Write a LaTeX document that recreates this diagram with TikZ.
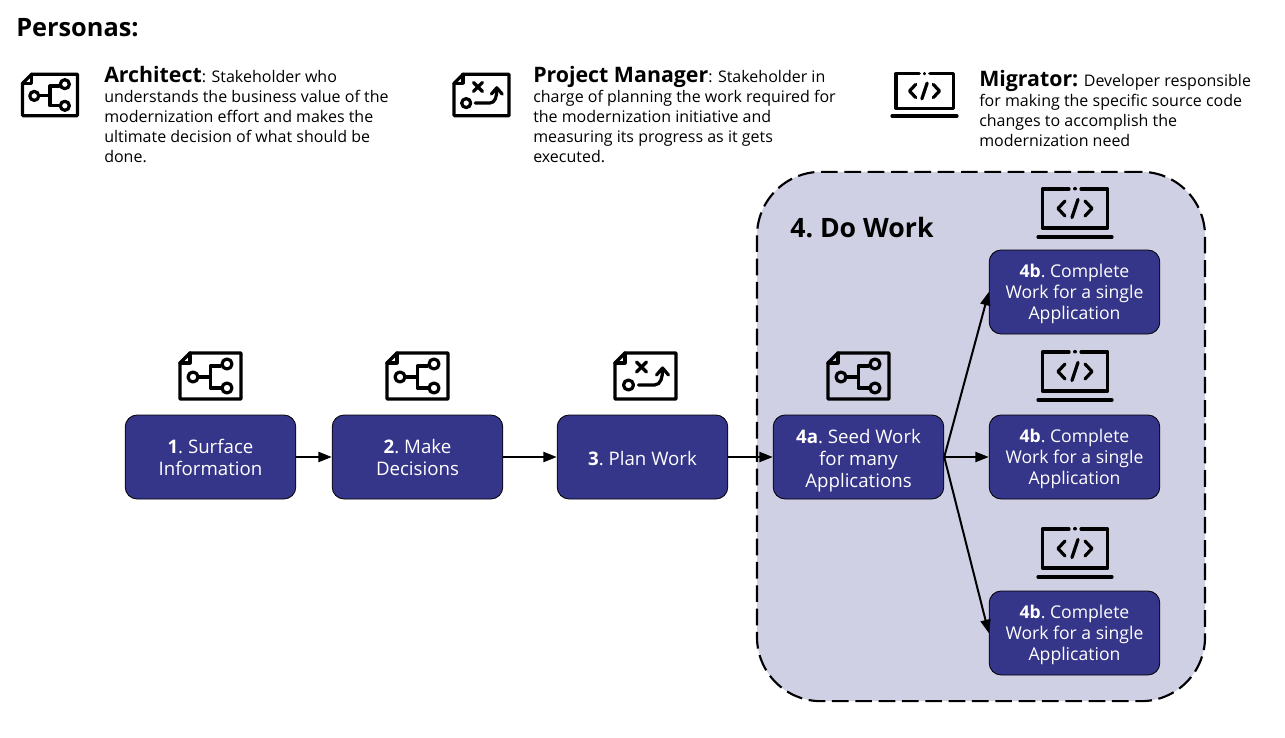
\documentclass[tikz,border=0pt]{standalone}
\usepackage{fontspec}
\setmainfont{Open Sans}
\usetikzlibrary{arrows.meta}
\frenchspacing

\definecolor{stepblue}{HTML}{35358A}
\definecolor{zonefill}{HTML}{CFD0E4}

\tikzset{
  stepbox/.style={draw=black,line width=.6pt,fill=stepblue,text=white,rounded corners=9pt,
    minimum width=128pt,minimum height=63pt,inner sep=0pt,align=center,
    font=\fontsize{14}{16.5}\selectfont},
  workbox/.style={stepbox,font=\fontsize{13.2}{15.75}\selectfont},
  workzone/.style={draw=black,line width=1.6pt,fill=zonefill,rounded corners=48pt,
    dash pattern=on 12.5pt off 5pt,minimum width=336pt,minimum height=397pt,inner sep=0pt},
  persona/.style={anchor=north west,align=left,inner sep=0pt,
    font=\fontsize{12}{15}\selectfont\nonfrenchspacing},
  flow/.style={line width=1.5pt,-{Triangle[length=10pt,width=7.5pt]}},
  icon/.style={line width=2.4pt,line cap=round,line join=round},
  pics/archicon/.style={code={
    \draw[icon] (-20.5,-23) -- (30.5,-23) -- (30.5,23) -- (-30.5,23) -- (-30.5,-13) -- cycle;
    \draw[icon] (-30.5,-13) -- (-20.5,-13) -- (-20.5,-23);
    \draw[icon] (-17.5,1) circle (5);
    \draw[icon] (-12,1) -- (-1,1);
    \draw[icon] (10,-10) -- (0,-10) -- (0,12) -- (10,12);
    \draw[icon] (16.5,-12) circle (5);
    \draw[icon] (16.5,12) circle (5);
  }},
  pics/planicon/.style={code={
    \draw[icon] (-20.5,-23) -- (30.5,-23) -- (30.5,23) -- (-30.5,23) -- (-30.5,-13) -- cycle;
    \draw[icon] (-30.5,-13) -- (-20.5,-13) -- (-20.5,-23);
    \draw[icon] (-17,9) circle (5);
    \draw[icon] (-9,-14) -- (1,-4);
    \draw[icon] (1,-14) -- (-9,-4);
    \draw[icon] (-7,9) -- (9,9) to[out=0,in=-90] (17,-6);
    \draw[icon] (11,-1) -- (17,-8) -- (23,-1);
  }},
  pics/codeicon/.style={code={
    \draw[icon] (-6,-19.5) -- (-32.5,-19.5) -- (-32.5,19.5) -- (32.5,19.5) -- (32.5,-19.5) -- (6,-19.5);
    \draw[icon] (0,-20) -- (0,-19.6);
    \draw[icon] (-37,28.5) -- (37,28.5);
    \draw[icon] (-10,-7.5) -- (-17,0) -- (-10,7.5);
    \draw[icon] (10,-7.5) -- (17,0) -- (10,7.5);
    \draw[icon] (3,-9) -- (-3,9);
  }}
}

\begin{document}
\begin{tikzpicture}[x=.75pt,y=-.75pt]
  \useasboundingbox (0,0) rectangle (1285,738);

  % personas
  \draw (16,28) node[anchor=west,inner sep=0pt,font=\fontsize{19}{23}\selectfont\bfseries](title) {Personas:};

  \draw (50,95) pic[scale=.9] {archicon};
  \draw (104,66) node[persona](archtext) {{\fontsize{16}{15}\selectfont\bfseries Architect}: Stakeholder who\\understands the business value of the\\modernization effort and makes the\\ultimate decision of what should be\\done.};

  \draw (481.5,95) pic[scale=.9] {planicon};
  \draw (533,66) node[persona](plantext) {{\fontsize{16}{15}\selectfont\bfseries Project Manager}: Stakeholder in\\charge of planning the work required for\\the modernization initiative and\\measuring its progress as it gets\\executed.};

  \draw (924.5,91) pic[scale=.88] {codeicon};
  \draw (979,70) node[persona](codetext) {{\fontsize{16}{15}\selectfont\bfseries Migrator:} Developer responsible\\for making the specific source code\\changes to accomplish the\\modernization need};

  % do work zone
  \draw (981,436.5) node[workzone](zone) {};
  \draw (790,228) node[anchor=west,inner sep=0pt,font=\fontsize{20}{24}\selectfont\bfseries](zonetitle) {4. Do Work};

  % steps
  \draw (210.5,457) node[stepbox](s1)  {\textbf{1}. Surface\\Information};
  \draw (417.5,457) node[stepbox](s2)  {\textbf{2}. Make\\Decisions};
  \draw (642.5,457) node[stepbox](s3)  {\rule{0pt}{12.8pt}\textbf{3}. Plan Work};
  \draw (858.5,457) node[stepbox](s4a) {\rule{0pt}{16.5pt}\textbf{4a}. Seed Work\\for many\\Applications};
  \draw (1074.5,292) node[workbox](b1) {\rule{0pt}{13pt}\textbf{4b}. Complete\\Work for a single\\Application};
  \draw (1074.5,457) node[workbox](b2) {\rule{0pt}{13pt}\textbf{4b}. Complete\\Work for a single\\Application};
  \draw (1074.5,633) node[workbox](b3) {\rule{0pt}{13pt}\textbf{4b}. Complete\\Work for a single\\Application};

  % icons above the steps
  \draw (210.5,376) pic {archicon};
  \draw (417.5,376) pic {archicon};
  \draw (645.5,376) pic {planicon};
  \draw (858.5,376) pic {archicon};
  \draw (1075,208.5) pic {codeicon};
  \draw (1075,371.5) pic {codeicon};
  \draw (1075,548.5) pic {codeicon};

  \path[draw,flow] (s1) -- (s2);
  \path[draw,flow] (s2) -- (s3);
  \path[draw,flow] (s3) -- (s4a);

  \path[draw,flow] (s4a.east) -- (b1.west);
  \path[draw,flow] (s4a.east) -- (b2.west);
  \path[draw,flow] (s4a.east) -- (b3.west);

\end{tikzpicture}
\end{document}
